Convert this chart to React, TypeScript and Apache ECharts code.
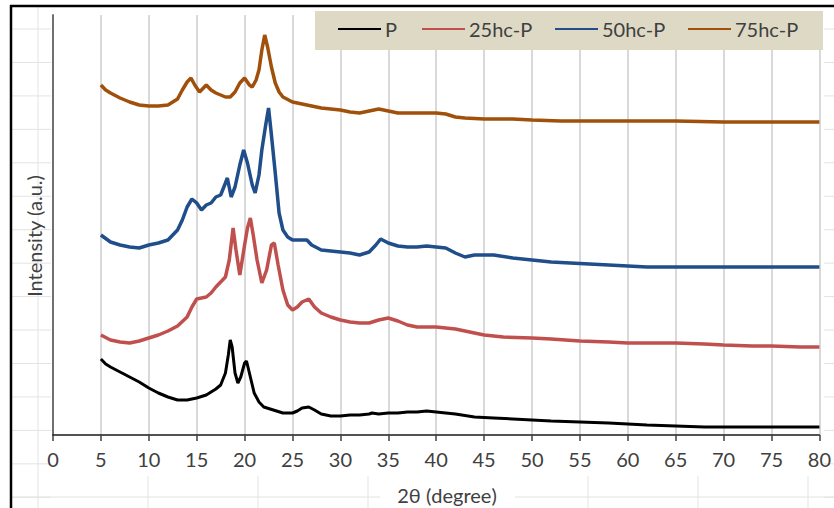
import React, { useEffect, useRef } from "react";
import * as echarts from "echarts";

const seriesNames = ["P", "25hc-P", "50hc-P", "75hc-P"];
const seriesColors = ["#000000", "#c0504d", "#1f4e8a", "#a0500a"];

const xTicks = [0, 5, 10, 15, 20, 25, 30, 35, 40, 45, 50, 55, 60, 65, 70, 75, 80];

const pX = [5, 5.5, 6, 7, 8, 9, 10, 11, 12, 13, 13.5, 14, 15, 16, 17, 17.5, 18, 18.3, 18.5, 18.7, 19, 19.3, 19.6, 20, 20.2, 20.5, 21, 21.5, 22, 23, 24, 25, 25.5, 26, 26.7, 27.3, 28, 29, 30, 31, 32, 33, 33.3, 34, 35, 36, 37, 38, 39, 40, 42, 44, 46, 48, 50, 52, 55, 58, 60, 62, 65, 68, 70, 72, 75, 78, 80];
const pY = [76, 71, 68, 63, 58, 53, 47, 42, 38, 35, 35, 35, 37, 40, 46, 50, 62, 80, 95, 88, 62, 52, 58, 72, 74, 62, 42, 33, 28, 25, 22, 22, 24, 27, 28, 25, 21, 19, 19, 20, 20, 21, 22, 21, 22, 22, 23, 23, 24, 23, 21, 18, 17, 16, 15, 14, 13, 12, 11, 10, 9, 8, 8, 8, 8, 8, 8];

const p25X = [5, 6, 7, 8, 9, 10, 11, 12, 13, 14, 14.5, 15, 16, 16.5, 17, 18, 18.4, 18.8, 19.1, 19.5, 20, 20.3, 20.6, 20.9, 21.3, 21.8, 22.3, 22.8, 23.1, 23.5, 24, 24.5, 25, 25.5, 26, 26.7, 27.3, 28, 29, 30, 31, 32, 33, 34, 35, 36, 37, 38, 40, 42, 44, 45, 47, 50, 52, 55, 58, 60, 63, 65, 68, 70, 73, 75, 78, 80];
const p25Y = [100, 95, 93, 92, 94, 97, 100, 104, 109, 118, 128, 136, 138, 142, 148, 158, 175, 207, 185, 160, 190, 207, 217, 200, 175, 152, 165, 190, 192, 170, 145, 130, 125, 128, 133, 136, 128, 122, 118, 115, 113, 112, 112, 115, 117, 114, 110, 108, 108, 106, 102, 100, 98, 97, 96, 94, 93, 92, 92, 92, 91, 90, 89, 89, 88, 88];

const p50X = [5, 6, 7, 8, 9, 10, 11, 12, 13, 13.5, 14, 14.5, 15, 15.5, 16, 16.5, 17, 17.5, 18, 18.2, 18.6, 19, 19.5, 19.9, 20.3, 20.8, 21.1, 21.5, 21.8, 22.2, 22.5, 22.8, 23.2, 23.6, 24, 24.5, 25, 26, 26.5, 27, 28, 29, 30, 31, 32, 33, 33.7, 34.2, 35, 36, 37, 38, 39, 40, 41, 42, 43, 44, 46, 48, 50, 52, 54, 56, 58, 60, 62, 65, 68, 70, 73, 75, 78, 80];
const p50Y = [200, 193, 190, 188, 187, 190, 192, 195, 205, 215, 228, 236, 232, 225, 230, 232, 238, 240, 252, 257, 238, 248, 270, 285, 272, 250, 242, 260, 285, 310, 327, 300, 262, 222, 205, 198, 195, 195, 195, 190, 185, 184, 183, 182, 180, 183, 190, 196, 192, 189, 188, 188, 189, 188, 187, 182, 178, 180, 180, 177, 175, 173, 172, 171, 170, 169, 168, 168, 168, 168, 168, 168, 168, 168];

const p75X = [5, 5.5, 6, 7, 8, 9, 10, 11, 12, 12.5, 13, 13.5, 14, 14.4, 14.8, 15.3, 16, 16.5, 17, 18, 18.5, 19, 19.5, 20, 20.5, 20.8, 21.2, 21.5, 21.8, 22.1, 22.4, 22.8, 23.2, 23.6, 24, 25, 26, 27, 28, 29, 30, 31, 32, 33, 34, 35, 36, 38, 40, 41, 42, 43, 45, 48, 50, 53, 55, 58, 60, 65, 70, 75, 80];
const p75Y = [350, 345, 342, 337, 333, 330, 329, 329, 330, 333, 336, 345, 353, 357, 350, 343, 350, 345, 342, 338, 338, 343, 352, 357, 350, 348, 355, 365, 385, 400, 388, 368, 352, 343, 338, 333, 331, 329, 327, 326, 325, 323, 322, 324, 326, 324, 322, 322, 322, 321, 318, 317, 316, 316, 315, 314, 314, 314, 314, 314, 313, 313, 313];

const allX = [pX, p25X, p50X, p75X];
const allY = [pY, p25Y, p50Y, p75Y];

const FONT = "Lato, 'Open Sans', sans-serif";

export default function App() {
  const ref = useRef<HTMLDivElement>(null);
  useEffect(() => {
    if (!ref.current) return;
    const chart = echarts.init(ref.current, undefined, { renderer: "svg" });

    const sheet: any[] = [];
    const lc = "#e3e3e3";
    for (let k = 0; k < 15; k++) {
      const y = 29 + k * 33.45;
      sheet.push({ type: "line", shape: { x1: 12, y1: y, x2: 51, y2: y }, style: { stroke: lc, lineWidth: 1 }, z: -10 });
      sheet.push({ type: "line", shape: { x1: 824, y1: y, x2: 834, y2: y }, style: { stroke: lc, lineWidth: 1 }, z: -10 });
    }
    sheet.push({ type: "line", shape: { x1: 38, y1: 7, x2: 38, y2: 508 }, style: { stroke: lc, lineWidth: 1 }, z: -10 });
    sheet.push({ type: "line", shape: { x1: 12, y1: 497, x2: 380, y2: 497 }, style: { stroke: lc, lineWidth: 1 }, z: -10 });
    sheet.push({ type: "line", shape: { x1: 515, y1: 497, x2: 834, y2: 497 }, style: { stroke: lc, lineWidth: 1 }, z: -10 });
    [148, 258, 368, 588, 698, 808].forEach((x) => {
      sheet.push({ type: "line", shape: { x1: x, y1: 476, x2: x, y2: 508 }, style: { stroke: lc, lineWidth: 1 }, z: -10 });
    });

    const legends = seriesNames.map((n, i) => ({
      data: [n],
      left: [338, 422, 555, 688][i],
      top: 19,
      icon: "rect",
      itemWidth: 43,
      itemHeight: 2,
      itemGap: 0,
      padding: 0,
      z: 20,
      textStyle: { fontFamily: FONT, fontSize: 20, color: "#404040", padding: [0, 0, 0, -1] },
    }));

    chart.setOption({
      animation: false,
      backgroundColor: "#ffffff",
      grid: { left: 53, right: 12, top: 15, bottom: 73, containLabel: false },
      legend: legends,
      xAxis: {
        type: "value",
        min: 0,
        max: 80,
        interval: 5,
        axisLine: { show: true, lineStyle: { color: "#1a1a1a", width: 1.5 } },
        axisTick: { show: true, length: 6, lineStyle: { color: "#404040", width: 1.5 } },
        axisLabel: { fontFamily: FONT, fontSize: 20, color: "#404040", margin: 14, data: xTicks },
        splitLine: { show: true, lineStyle: { color: "#d9d9d9", width: 2 } },
      },
      yAxis: {
        type: "value",
        min: 0,
        max: 420,
        axisLine: { show: true, lineStyle: { color: "#707070", width: 2 } },
        axisTick: { show: false },
        axisLabel: { show: false },
        splitLine: { show: false },
      },
      graphic: [
        ...sheet,
        { type: "rect", shape: { x: 315, y: 11, width: 508, height: 39 }, style: { fill: "#ddd9c4" }, z: 1 },
        { type: "line", shape: { x1: 10, y1: 6, x2: 834, y2: 6 }, style: { stroke: "#000", lineWidth: 2.5 }, z: 100 },
        { type: "line", shape: { x1: 11, y1: 5, x2: 11, y2: 508 }, style: { stroke: "#000", lineWidth: 2.5 }, z: 100 },
        {
          type: "text",
          x: 34,
          y: 236,
          rotation: Math.PI / 2,
          style: { text: "Intensity (a.u.)", fontFamily: FONT, fontSize: 20, fill: "#404040", textAlign: "center", textVerticalAlign: "middle" },
        },
        {
          type: "text",
          x: 447,
          y: 495,
          style: { text: "2θ (degree)", fontFamily: FONT, fontSize: 20, fill: "#404040", textAlign: "center", textVerticalAlign: "middle" },
        },
      ],
      series: seriesNames.map((n, i) => ({
        name: n,
        type: "line",
        showSymbol: false,
        symbol: "none",
        color: seriesColors[i],
        lineStyle: { color: seriesColors[i], width: i === 0 ? 3 : 3.5 },
        data: allX[i].map((x, j) => [x, allY[i][j]]),
        z: 3,
      })),
    });
    return () => chart.dispose();
  }, []);
  return <div ref={ref} style={{ width: 834, height: 508, position: "absolute", left: 0, top: 0 }} />;
}
